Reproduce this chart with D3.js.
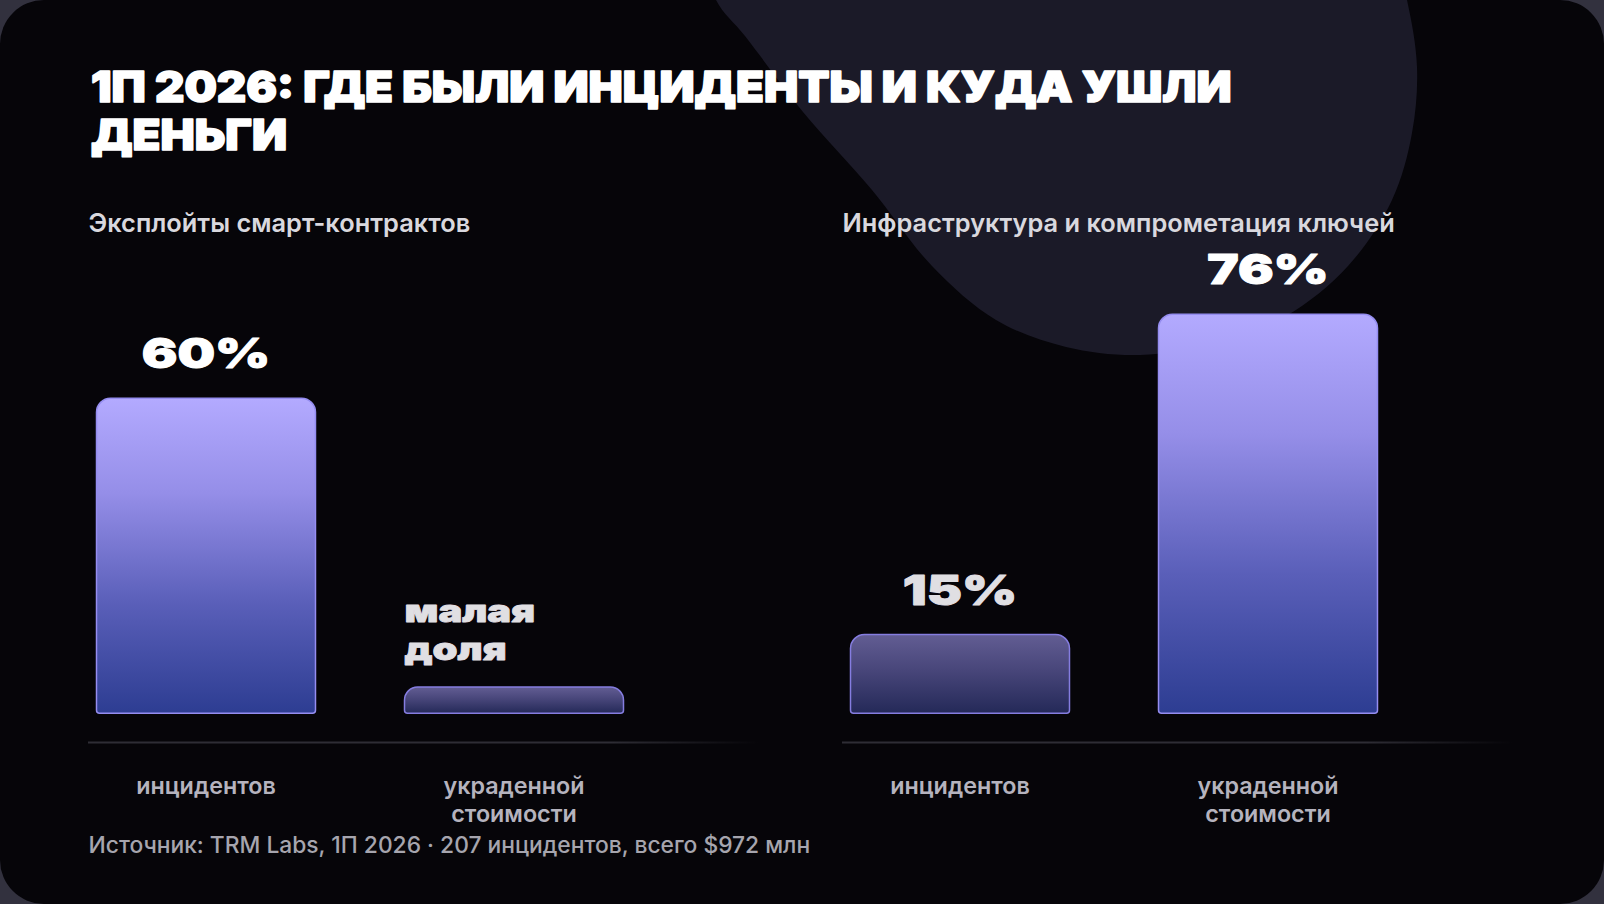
<!DOCTYPE html>
<html><head><meta charset="utf-8">
<script src="https://cdn.jsdelivr.net/npm/d3@7"></script>
<style>html,body{margin:0;padding:0;background:#32313e;overflow:hidden}svg{display:block}</style>
</head><body><svg id="chart" width="1604" height="904"></svg>
<script>
// ---- data ----
const titleLines = ["1П 2026: ГДЕ БЫЛИ ИНЦИДЕНТЫ И КУДА УШЛИ", "ДЕНЬГИ"];
const panelTitles = ["Эксплойты смарт-контрактов", "Инфраструктура и компрометация ключей"];
const categories = ["инцидентов", "украденной стоимости"];
const exploitValues = [60, 5];
const infraValues = [15, 76];
const exploitLabels = ["60%", "малая доля"];
const infraLabels = ["15%", "76%"];
const sourceText = "Источник: TRM Labs, 1П 2026 · 207 инцидентов, всего $972 млн";

// ---- layout ----
const W = 1604, H = 904;
const svg = d3.select("#chart");
const defs = svg.append("defs");
defs.append("clipPath").attr("id","cardClip").append("rect")
  .attr("x",0).attr("y",0).attr("width",W).attr("height",H).attr("rx",44);

const gBright = defs.append("linearGradient").attr("id","gBright").attr("x1",0).attr("y1",0).attr("x2",0).attr("y2",1);
[[0,"#b3aaff"],[0.3,"#958ee8"],[0.65,"#5a5fb9"],[1,"#2d3d92"]].forEach(s=>gBright.append("stop").attr("offset",s[0]).attr("stop-color",s[1]));
const gMuted = defs.append("linearGradient").attr("id","gMuted").attr("x1",0).attr("y1",0).attr("x2",0).attr("y2",1);
[[0,"#625d93"],[0.45,"#48467a"],[1,"#242958"]].forEach(s=>gMuted.append("stop").attr("offset",s[0]).attr("stop-color",s[1]));
const gLine = defs.append("linearGradient").attr("id","gLine").attr("x1",0).attr("y1",0).attr("x2",1).attr("y2",0);
[[0,"#2e2d35",1],[0.78,"#2e2d35",1],[1,"#2e2d35",0]].forEach(s=>gLine.append("stop").attr("offset",s[0]).attr("stop-color",s[1]).attr("stop-opacity",s[2]));

const card = svg.append("g").attr("clip-path","url(#cardClip)");
card.append("rect").attr("width",W).attr("height",H).attr("fill","#060509");

// decorative blob
const blobPts = [[700,-60],[716,0],[745,36],[803,112],[872,190],[932,266],[996,320],[1066,347],[1140,355],[1214,343],[1286,316],[1348,266],[1392,200],[1412,133],[1417,67],[1407,0],[1390,-60]];
card.append("path").attr("d", d3.line().curve(d3.curveCatmullRomClosed)(blobPts)).attr("fill","#1b1a28");

// title
const title = card.append("g").attr("font-family","Inter, 'Noto Sans', sans-serif").attr("font-weight",900).attr("font-size",43)
  .attr("fill","#ffffff").attr("stroke","#ffffff").attr("stroke-width",1.6).attr("stroke-linejoin","round");
const TITLE_W = 1141;
const t0 = title.append("text").text(titleLines[0]);
const titleStretch = TITLE_W / t0.node().getComputedTextLength();
t0.remove();
titleLines.forEach((line,i)=>{
  title.append("text").attr("transform",`translate(91,${102 + i*48}) scale(${titleStretch},1)`).text(line);
});

// panels
const baseY = 713.3, sepY = 742.5;
const y = d3.scaleLinear().domain([0,100]).range([baseY, baseY - 525]);
const VALUE_STRETCH = 1.29;

function barPath(x0, y0, w, h, rt, rb){
  rt = Math.min(rt, h/2, w/2);
  return `M${x0},${y0+rt} A${rt},${rt} 0 0 1 ${x0+rt},${y0} H${x0+w-rt} A${rt},${rt} 0 0 1 ${x0+w},${y0+rt} V${y0+h-rb} A${rb},${rb} 0 0 1 ${x0+w-rb},${y0+h} H${x0+rb} A${rb},${rb} 0 0 1 ${x0},${y0+h-rb} Z`;
}

const panels = [
  {title: panelTitles[0], values: exploitValues, labels: exploitLabels, x0: 88},
  {title: panelTitles[1], values: infraValues, labels: infraLabels, x0: 842}
];

panels.forEach(p=>{
  const g = card.append("g");
  g.append("text").attr("x", p.x0 + 0.5).attr("y", 232)
    .attr("font-family","Inter, sans-serif").attr("font-weight",600).attr("font-size",25.4)
    .attr("fill","#d9d8de").text(p.title);

  const x = d3.scaleBand().domain(categories).range([p.x0 + 8.5, p.x0 + 8.5 + 527]).paddingInner(0.289).paddingOuter(0);
  const data = categories.map((c,i)=>({cat:c, v:p.values[i], label:p.labels[i]}));

  g.selectAll("path.bar").data(data).join("path").attr("class","bar")
    .attr("d", d=>barPath(x(d.cat), y(d.v), x.bandwidth(), baseY - y(d.v), 14, 3))
    .attr("fill", d=> d.v < 30 ? "url(#gMuted)" : "url(#gBright)")
    .attr("stroke", d=> d.v < 30 ? "#857de0" : "#958df0")
    .attr("stroke-width",1.5);

  // value labels
  data.forEach(d=>{
    const lines = d.label.split(" ");
    const multi = lines.length > 1;
    const top = y(d.v);
    const lastBase = top - (multi ? 27 : 30);
    const col = d.v < 30 ? "#e0dfe3" : "#ffffff";
    lines.forEach((ln,i)=>{
      const by = lastBase - (lines.length-1-i)*38;
      const tx = multi ? x(d.cat) : x(d.cat) + x.bandwidth()/2;
      g.append("text")
        .attr("transform",`translate(${tx},${by}) scale(${VALUE_STRETCH},1)`)
        .attr("text-anchor", multi ? "start" : "middle")
        .attr("font-family","Inter, sans-serif").attr("font-weight",900).attr("font-size", multi ? 31 : 41)
        .attr("fill", col).attr("stroke", col).attr("stroke-width", multi ? 0.8 : 1).attr("stroke-linejoin","round")
        .text(ln);
    });
  });

  // separator
  g.append("rect").attr("x", p.x0).attr("y", sepY - 1).attr("width", 670).attr("height", 2).attr("fill","url(#gLine)");

  // category axis
  const ax = g.append("g").attr("transform",`translate(0,${sepY})`)
    .call(d3.axisBottom(x).tickSize(0).tickPadding(0));
  ax.select(".domain").remove();
  ax.selectAll(".tick text").each(function(d){
    const t = d3.select(this);
    t.text(null).attr("y",0).attr("dy",null)
      .attr("font-family","Inter, sans-serif").attr("font-weight",600).attr("font-size",23.3)
      .attr("fill","#b5b3be");
    d.split(" ").forEach((w,i)=> t.append("tspan").attr("x",0).attr("y", 51 + i*28.5).text(w));
  });
});

// source
card.append("text").attr("x",88.5).attr("y",853)
  .attr("font-family","Inter, sans-serif").attr("font-weight",500).attr("font-size",22.8)
  .attr("fill","#a6a5ae").text(sourceText);
</script></body></html>
